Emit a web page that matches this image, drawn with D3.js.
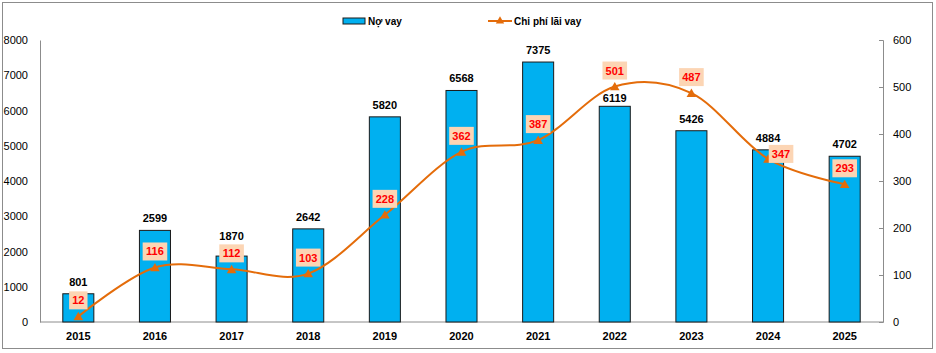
<!DOCTYPE html>
<html>
<head>
<meta charset="utf-8">
<script src="https://cdn.jsdelivr.net/npm/d3@7/dist/d3.min.js"></script>
<style>
  body { margin: 0; background: #fff; }
  text { font-family: "Liberation Sans", Arial, sans-serif; }
</style>
</head>
<body>
<svg id="svg" width="936" height="353"></svg>
<script>
const years = ["2015", "2016", "2017", "2018", "2019", "2020", "2021", "2022", "2023", "2024", "2025"];
const debt = [801, 2599, 1870, 2642, 5820, 6568, 7375, 6119, 5426, 4884, 4702];
const interest = [12, 116, 112, 103, 228, 362, 387, 501, 487, 347, 293];
const leftTicks = [0, 1000, 2000, 3000, 4000, 5000, 6000, 7000, 8000];
const rightTicks = [0, 100, 200, 300, 400, 500, 600];

const svg = d3.select("#svg");
const barColor = "#00b0f0";
const lineColor = "#e46c0a";

// outer frame
svg.append("rect")
  .attr("x", 2.5).attr("y", 2.5)
  .attr("width", 930).attr("height", 346)
  .attr("fill", "none")
  .attr("stroke", "#8c8c8c");

const x = d3.scaleBand().domain(years).range([40, 883]).paddingInner(0.595).paddingOuter(0.2975);
const yL = d3.scaleLinear().domain([0, 8000]).range([322, 40]);
const yR = d3.scaleLinear().domain([0, 600]).range([322, 40]);
const cx = (i) => x(years[i]) + x.bandwidth() / 2;

// left axis
const axL = svg.append("g")
  .attr("transform", "translate(40,0)")
  .call(d3.axisLeft(yL).tickValues(leftTicks).tickFormat(d3.format("d")).tickSize(0).tickPadding(12));
axL.select(".domain").attr("stroke", "#8c8c8c");
axL.selectAll("text").style("font-size", "11px").attr("fill", "#000");

// right axis, ticks drawn inward
const axR = svg.append("g")
  .attr("transform", "translate(883,0)")
  .call(d3.axisRight(yR).tickValues(rightTicks).tickFormat(d3.format("d")).tickSizeInner(-4).tickSizeOuter(-4).tickPadding(10));
axR.select(".domain").attr("stroke", "#8c8c8c");
axR.selectAll("line").attr("stroke", "#8c8c8c");
axR.selectAll("text").style("font-size", "11px").attr("fill", "#000");

// baseline
svg.append("line")
  .attr("x1", 40).attr("x2", 883)
  .attr("y1", yL(0)).attr("y2", yL(0))
  .attr("stroke", "#8c8c8c");

// x labels
svg.append("g")
  .selectAll("text")
  .data(years)
  .join("text")
  .attr("x", (d) => x(d) + x.bandwidth() / 2)
  .attr("y", 340)
  .attr("text-anchor", "middle")
  .style("font-size", "11px")
  .style("font-weight", "bold")
  .text((d) => d);

// bars
svg.append("g")
  .selectAll("rect")
  .data(debt)
  .join("rect")
  .attr("x", (d, i) => x(years[i]))
  .attr("y", (d) => yL(d))
  .attr("width", x.bandwidth())
  .attr("height", (d) => yL(0) - yL(d))
  .attr("fill", barColor)
  .attr("stroke", "#1a1a1a")
  .attr("stroke-width", 1);

// bar labels (a few nudged like in the original to dodge the line labels)
const barShift = { "2017": -16, "2022": -4 };
svg.append("g")
  .selectAll("text")
  .data(debt)
  .join("text")
  .attr("x", (d, i) => cx(i))
  .attr("y", (d, i) => yL(d) + (barShift[years[i]] || -8))
  .attr("text-anchor", "middle")
  .style("font-size", "11px")
  .style("font-weight", "bold")
  .text((d) => d);

// smoothed line
const line = d3.line()
  .x((d, i) => cx(i))
  .y((d) => yR(d))
  .curve(d3.curveCardinal.tension(0));

svg.append("path")
  .datum(interest)
  .attr("d", line)
  .attr("fill", "none")
  .attr("stroke", lineColor)
  .attr("stroke-width", 2);

const tri = d3.symbol().type(d3.symbolTriangle).size(40);
svg.append("g")
  .selectAll("path")
  .data(interest)
  .join("path")
  .attr("d", tri)
  .attr("transform", (d, i) => "translate(" + cx(i) + "," + (yR(d) + 1) + ")")
  .attr("fill", lineColor);

// line labels
const shift = { "2024": [13, -5] };
const lab = svg.append("g")
  .selectAll("g")
  .data(interest)
  .join("g")
  .attr("transform", (d, i) => {
    const s = shift[years[i]] || [0, -16];
    return "translate(" + (cx(i) + s[0]) + "," + (yR(d) + s[1]) + ")";
  });
lab.append("rect")
  .attr("x", (d) => -(String(d).length * 6.2 + 6) / 2)
  .attr("y", -9)
  .attr("width", (d) => String(d).length * 6.2 + 6)
  .attr("height", 18)
  .attr("fill", "#fcd5b4");
lab.append("text")
  .attr("y", 4)
  .attr("text-anchor", "middle")
  .attr("fill", "#ff0000")
  .style("font-size", "11px")
  .style("font-weight", "bold")
  .text((d) => d);

// legend
const leg = svg.append("g");
leg.append("rect")
  .attr("x", 343).attr("y", 18)
  .attr("width", 22).attr("height", 6)
  .attr("fill", barColor)
  .attr("stroke", "#1a1a1a");
leg.append("text")
  .attr("x", 368).attr("y", 25)
  .style("font-size", "10px")
  .style("font-weight", "bold")
  .text("Nợ vay");
leg.append("line")
  .attr("x1", 488).attr("x2", 512)
  .attr("y1", 21).attr("y2", 21)
  .attr("stroke", lineColor)
  .attr("stroke-width", 2);
leg.append("path")
  .attr("d", d3.symbol().type(d3.symbolTriangle).size(30))
  .attr("transform", "translate(500,21)")
  .attr("fill", lineColor);
leg.append("text")
  .attr("x", 514).attr("y", 25)
  .style("font-size", "10px")
  .style("font-weight", "bold")
  .text("Chi phí lãi vay");
</script>
</body>
</html>
